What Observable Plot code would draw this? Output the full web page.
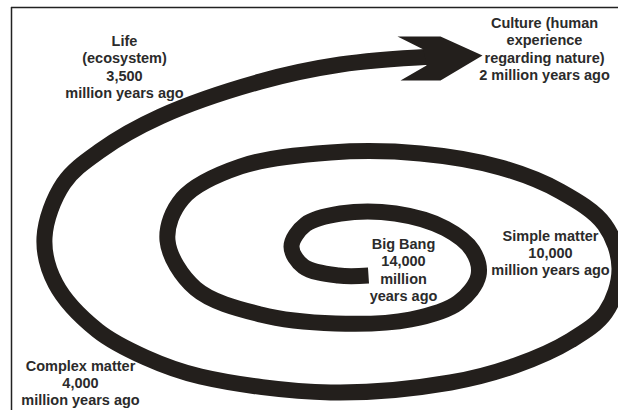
<!DOCTYPE html>
<html>
<head>
<meta charset="utf-8">
<script src="https://cdn.jsdelivr.net/npm/d3@7"></script>
<script src="https://cdn.jsdelivr.net/npm/@observablehq/plot@0.6"></script>
<style>
  html, body { margin: 0; padding: 0; background: #fff; }
  #chart svg { display: block; }
</style>
</head>
<body>
<div id="chart"></div>
<script>
// Spiral centerline (from Big Bang outward)
const spiralX = [368, 338, 303, 291, 305, 340, 395, 445, 472, 478, 458, 410, 335, 260, 195, 167, 182, 240, 330, 420, 500, 560, 604, 619, 605, 570, 515, 450, 330, 200, 145, 97, 55, 44, 63, 100, 160, 260, 340, 432];
const spiralY = [275, 275, 266, 246, 224, 213, 213, 228, 250, 275, 302, 319, 323, 314, 288, 240, 198, 166, 152, 153, 167, 191, 224, 268, 312, 340, 365, 382, 392, 376, 357, 330, 283, 237, 183, 150, 116, 81, 64, 56];

// Arrowhead outline
const arrowX = [397, 440, 482, 440, 400, 426, 423];
const arrowY = [36, 36, 55, 80, 80, 65, 49];

// Stage labels
const labels = [
  "Life\n(ecosystem)\n3,500\nmillion years ago",
  "Culture (human\nexperience\nregarding nature)\n2 million years ago",
  "Big Bang\n14,000\nmillion\nyears ago",
  "Simple matter\n10,000\nmillion years ago",
  "Complex matter\n4,000\nmillion years ago"
];
const labelX = [124, 544, 403, 550, 80];
const labelY = [66, 48, 269, 252, 382];

const spiral = spiralX.map((x, i) => ({x, y: spiralY[i]}));
const arrow = arrowX.map((x, i) => ({x, y: arrowY[i]}));
const labelData = labels.map((t, i) => ({t, x: labelX[i], y: labelY[i]}));

const ink = "#231f1c";
const chart = Plot.plot({
  width: 618,
  height: 410,
  margin: 0,
  x: {domain: [0, 618], axis: null},
  y: {domain: [0, 410], reverse: true, axis: null},
  marks: [
    Plot.ruleY([7], {x1: 11, x2: 618, stroke: "#222", strokeWidth: 1.5}),
    Plot.ruleX([11], {y1: 7, y2: 410, stroke: "#222", strokeWidth: 1.5}),
    Plot.line(spiral, {x: "x", y: "y", curve: "catmull-rom", stroke: ink, strokeWidth: 16, strokeLinecap: "butt", strokeLinejoin: "round"}),
    Plot.line(arrow, {x: "x", y: "y", curve: "linear-closed", fill: ink, stroke: "none"}),
    Plot.text(labelData, {x: "x", y: "y", text: "t", textAnchor: "middle", lineAnchor: "middle", lineHeight: 1.2,
      fontSize: 14.5, fontWeight: "bold", fontFamily: "Liberation Sans, Arial, sans-serif", fill: "#2b2b2b"})
  ]
});
document.getElementById("chart").appendChild(chart);
</script>
</body>
</html>
